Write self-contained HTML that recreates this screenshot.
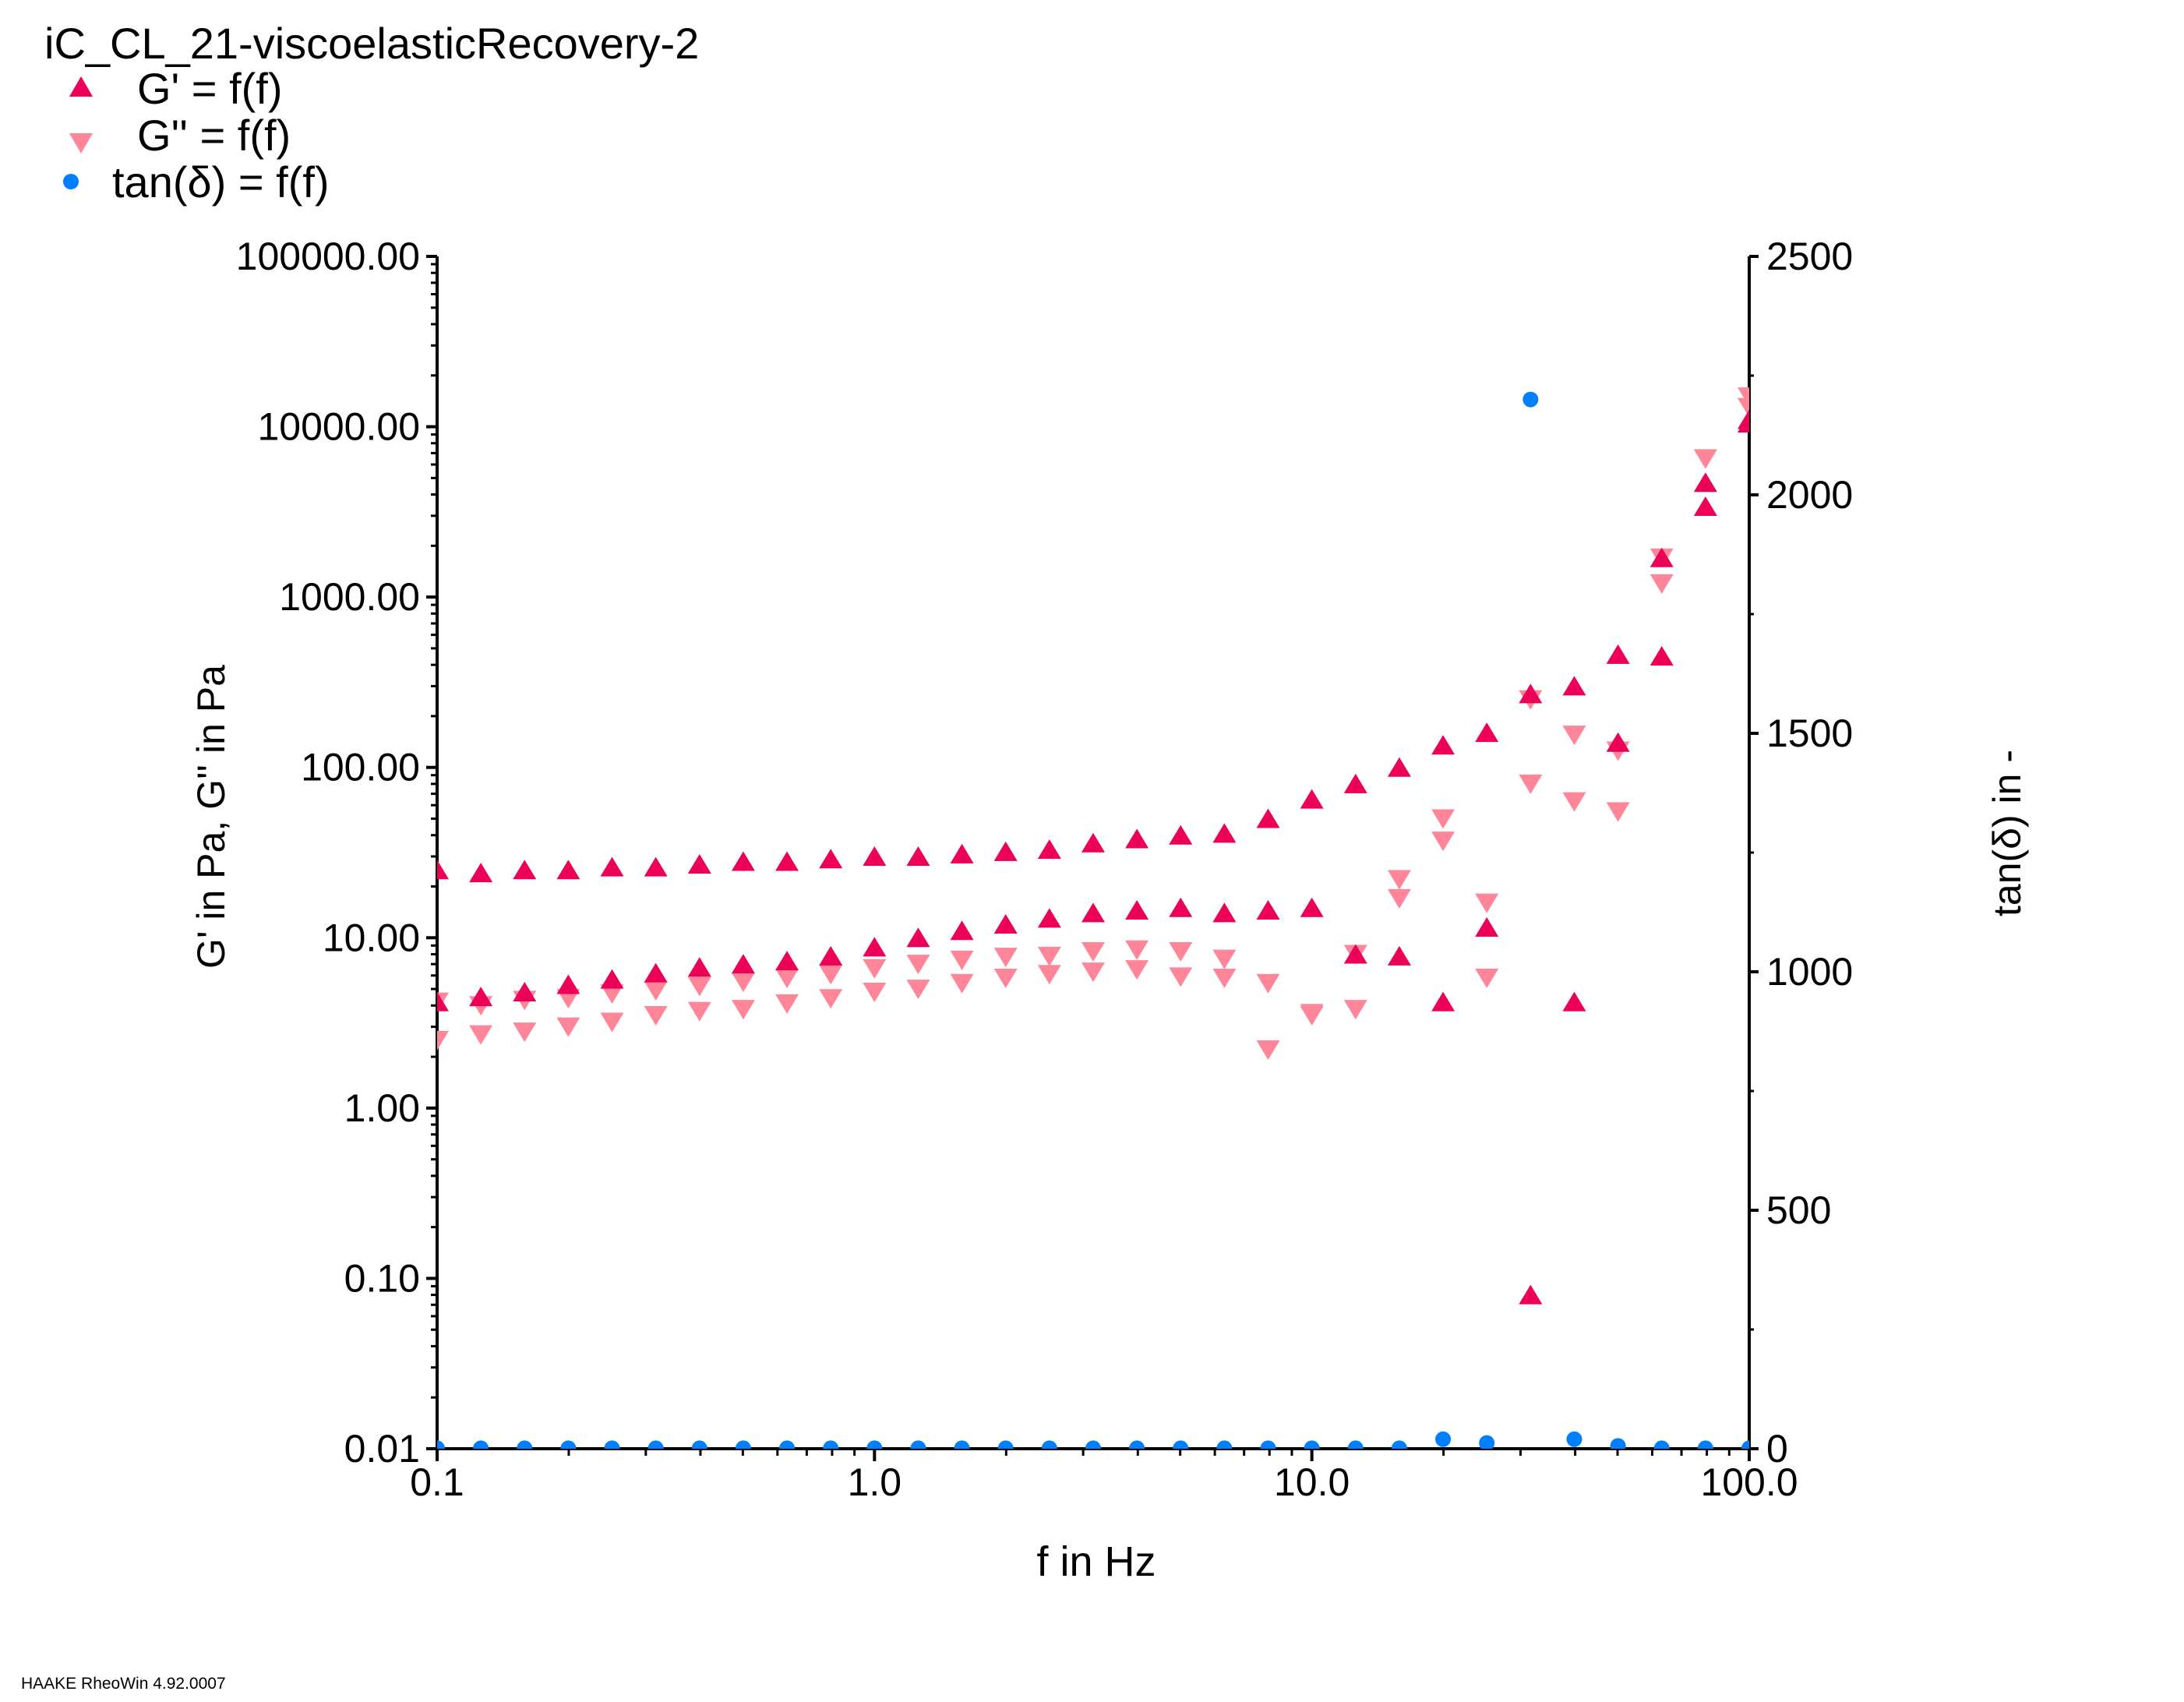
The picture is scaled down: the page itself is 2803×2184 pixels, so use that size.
<!DOCTYPE html>
<html><head><meta charset="utf-8"><style>
html,body{margin:0;padding:0;background:#fff;}
svg{display:block;font-family:"Liberation Sans",sans-serif;}
</style></head><body>
<svg id="chart" width="2803" height="2184" viewBox="0 0 2803 2184" xmlns="http://www.w3.org/2000/svg">
<defs><clipPath id="pc"><rect x="561" y="329" width="1684" height="1530"/></clipPath></defs>
<text x="57" y="75" font-size="56" fill="#000">iC_CL_21-viscoelasticRecovery-2</text>
<g>
<g><polygon points="104,98 89,124 119,124" fill="#ec0058"/><text x="176" y="133" font-size="56">G' = f(f)</text></g>
<g><polygon points="104,197 89,171 119,171" fill="#ff8599"/><text x="176" y="193" font-size="56">G'' = f(f)</text></g>
<g><circle cx="91" cy="233" r="10" fill="#0080ff"/><text x="144" y="253" font-size="56">tan(δ) = f(f)</text></g>
</g>
<g id="axes"></g>
<g id="marks" clip-path="url(#pc)"></g>
<text x="1407" y="2022" font-size="54" text-anchor="middle">f in Hz</text>
<text transform="translate(288,1048) rotate(-90)" font-size="50" text-anchor="middle">G' in Pa, G'' in Pa</text>
<text transform="translate(2593,1069) rotate(-90)" font-size="50" text-anchor="middle">tan(δ) in -</text>
<text x="27" y="2167" font-size="21">HAAKE RheoWin 4.92.0007</text>
</svg>
<script>
const freqExp = [-1,-0.9,-0.8,-0.7,-0.6,-0.5,-0.4,-0.3,-0.2,-0.1,0,0.1,0.2,0.3,0.4,0.5,0.6,0.7,0.8,0.9,1,1.1,1.2,1.3,1.4,1.5,1.6,1.7,1.8,1.9,2];
const gPrime1 = [25,24,25,25,26,26,27,28,28,29,30,30,31,32,33,36,38,40,41,50,65,80,100,135,160,270,300,460,450,4700,11000];
const gPrime2 = [4.2,4.5,4.8,5.3,5.7,6.2,6.7,7.0,7.3,7.8,8.8,10,11,12,13,14,14.5,15,14,14.5,15,8,7.8,4.2,11.5,0.08,4.2,140,1700,3400,10500];
const gDouble1 = [4.2,4.0,4.3,4.4,4.7,4.9,5.2,5.5,5.8,6.1,6.6,7.0,7.4,7.7,7.8,8.3,8.5,8.3,7.5,5.4,3.6,8,22,50,16,250,155,125,1700,6500,15000];
const gDouble2 = [2.5,2.7,2.8,3.0,3.2,3.5,3.7,3.8,4.1,4.4,4.8,5.0,5.4,5.8,6.1,6.3,6.5,5.9,5.8,2.2,3.5,3.8,17,37,5.8,80,63,55,1200,6500,13000];
const tanDelta = [1,1,1,1,1,1,1,1,1,1,1,1,1,1,1,1,1,1,1,1,1,1,1,20,12,2200,20,6,1,1,1];
const leftTicks = ["0.01","0.10","1.00","10.00","100.00","1000.00","10000.00","100000.00"];
const rightTicks = [0,500,1000,1500,2000,2500];
const xTicks = ["0.1","1.0","10.0","100.0"];

const L=561,R=2245,T=329,B=1859;
const xS=e=>L+(e+1)/3*(R-L);
const yL=v=>B-(Math.log10(v)+2)/7*(B-T);
const yR=v=>B-v/2500*(B-T);
const NS="http://www.w3.org/2000/svg";
const axes=document.getElementById('axes'), marks=document.getElementById('marks');
function mk(tag,attrs,parent){const el=document.createElementNS(NS,tag);for(const k in attrs)el.setAttribute(k,attrs[k]);parent.appendChild(el);return el;}
let p=mk('line',{x1:L,y1:T,x2:L,y2:B,stroke:'#000','stroke-width':4},axes);


p=mk('line',{x1:R,y1:T,x2:R,y2:B,stroke:'#000','stroke-width':4},axes);


p=mk('line',{x1:L-10,y1:B,x2:R+10,y2:B,stroke:'#000','stroke-width':4},axes);


leftTicks.forEach((t,i)=>{
  const y=B-i/7*(B-T);
  mk('line',{x1:L-14,y1:y,x2:L,y2:y,stroke:'#000','stroke-width':4},axes);
  if(i<7){for(let m=2;m<10;m++){const ym=y-Math.log10(m)/7*(B-T);mk('line',{x1:L-8,y1:ym,x2:L,y2:ym,stroke:'#000','stroke-width':3},axes);}}
  const tx=mk('text',{x:L-22,y:y+17,'font-size':50,'text-anchor':'end'},axes);tx.textContent=t;
  
  
});
rightTicks.forEach((t,i)=>{
  const y=yR(t);
  mk('line',{x1:R,y1:y,x2:R+12,y2:y,stroke:'#000','stroke-width':4},axes);
  if(i<5)mk('line',{x1:R,y1:yR(t+250),x2:R+6,y2:yR(t+250),stroke:'#000','stroke-width':3},axes);
  const tx=mk('text',{x:R+22,y:y+17,'font-size':50},axes);tx.textContent=t;
  
  
});
xTicks.forEach((t,i)=>{
  const x=xS(i-1);
  mk('line',{x1:x,y1:B,x2:x,y2:B+16,stroke:'#000','stroke-width':4},axes);
  if(i<3){for(let m=2;m<10;m++){const xm=xS(i-1+Math.log10(m));mk('line',{x1:xm,y1:B,x2:xm,y2:B+9,stroke:'#000','stroke-width':3},axes);}}
  const tx=mk('text',{x:x,y:B+60,'font-size':50,'text-anchor':'middle'},axes);tx.textContent=t;
  
  
});
function up(x,y){return `${x},${y-13} ${x-15},${y+12} ${x+15},${y+12}`;}
function dn(x,y){return `${x},${y+13} ${x-15},${y-12} ${x+15},${y-12}`;}
[[gDouble1,'#ff8599',dn,'g-double-prime-point'],[gDouble2,'#ff8599',dn,'g-double-prime-point'],[gPrime1,'#ec0058',up,'g-prime-point'],[gPrime2,'#ec0058',up,'g-prime-point']].forEach(s=>{
  s[0].forEach((v,i)=>{
    const el=mk('polygon',{points:s[2](xS(freqExp[i]),yL(v)),fill:s[1]},marks);
    
    
  });
});
tanDelta.forEach((v,i)=>{
  const el=mk('circle',{cx:xS(freqExp[i]),cy:yR(v),r:10,fill:'#0080ff'},marks);
  
  
});
</script>
</body></html>
